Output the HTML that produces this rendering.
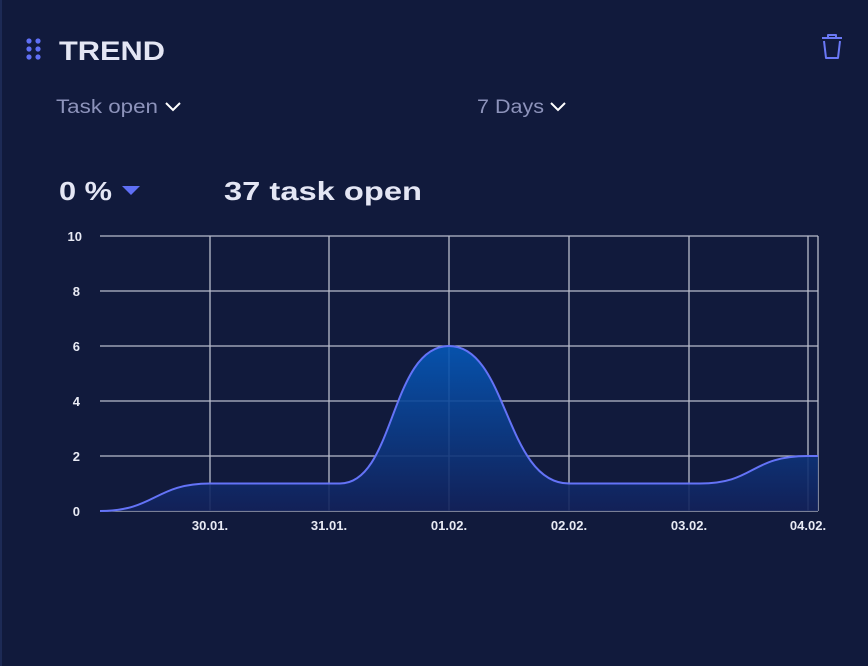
<!DOCTYPE html>
<html><head><meta charset="utf-8"><style>
html,body{margin:0;padding:0;}
body{width:868px;height:666px;background:#111a3c;font-family:"Liberation Sans",sans-serif;position:relative;overflow:hidden;}
.edge{position:absolute;left:0;top:0;width:2px;height:666px;background:#1d2a55;}
</style></head><body>
<div class="edge"></div>
<svg width="868" height="666" style="position:absolute;left:0;top:0">
<g fill="#5f6ff5">
<circle cx="29" cy="41" r="2.6"/><circle cx="38" cy="41" r="2.6"/>
<circle cx="29" cy="49" r="2.6"/><circle cx="38" cy="49" r="2.6"/>
<circle cx="29" cy="57" r="2.6"/><circle cx="38" cy="57" r="2.6"/>
</g>
<text x="59" y="60" font-size="27" font-weight="bold" fill="#e4e6f4" font-family="Liberation Sans" textLength="106" lengthAdjust="spacingAndGlyphs">TREND</text>
<g stroke="#6a78f5" stroke-width="2" fill="none" stroke-linejoin="round">
<path d="M822 38h20M828 38v-3h8v3M824 41l2 17h12l2-17"/>
</g>
<text x="56" y="113" font-size="19" fill="#8d93bb" font-family="Liberation Sans" textLength="102" lengthAdjust="spacingAndGlyphs">Task open</text>
<path d="M166 103l7 7 7-7" stroke="#fff" stroke-width="2" fill="none"/>
<text x="477" y="113" font-size="19" fill="#8d93bb" font-family="Liberation Sans" textLength="67" lengthAdjust="spacingAndGlyphs">7 Days</text>
<path d="M551 103l7 7 7-7" stroke="#fff" stroke-width="2" fill="none"/>
<text x="59" y="200" font-size="26" font-weight="bold" fill="#e4e6f4" font-family="Liberation Sans" textLength="53" lengthAdjust="spacingAndGlyphs">0 %</text>
<path d="M122 186h18l-9 9z" fill="#5f6ff5"/>
<text x="224" y="200" font-size="26" font-weight="bold" fill="#e4e6f4" font-family="Liberation Sans" textLength="198" lengthAdjust="spacingAndGlyphs">37 task open</text>
<defs><linearGradient id="g" x1="0" y1="0" x2="0" y2="1">
<stop offset="0" stop-color="#0558b8"/><stop offset="1" stop-color="#12215a"/></linearGradient></defs>
<g stroke="#b8bccb" stroke-width="1.3">
<line x1="100" x2="818" y1="236" y2="236"/><line x1="100" x2="818" y1="291" y2="291"/>
<line x1="100" x2="818" y1="346" y2="346"/><line x1="100" x2="818" y1="401" y2="401"/>
<line x1="100" x2="818" y1="456" y2="456"/><line x1="100" x2="818" y1="511" y2="511"/>
<line x1="210" x2="210" y1="236" y2="511"/><line x1="329" x2="329" y1="236" y2="511"/>
<line x1="449" x2="449" y1="236" y2="511"/><line x1="569" x2="569" y1="236" y2="511"/>
<line x1="689" x2="689" y1="236" y2="511"/><line x1="808" x2="808" y1="236" y2="511"/>
<line x1="818" x2="818" y1="236" y2="511"/>
</g>
<path d="M100 511C155 511 155 483.5 210 483.5L340 483.5C395 483.5 390 346 449 346C508 346 505 483.5 569 483.5L700 483.5C755 483.5 750 456 808 456L818 456L818 511Z" fill="url(#g)" opacity="0.9"/>
<path d="M100 511C155 511 155 483.5 210 483.5L340 483.5C395 483.5 390 346 449 346C508 346 505 483.5 569 483.5L700 483.5C755 483.5 750 456 808 456L818 456" fill="none" stroke="#6473f7" stroke-width="2"/>
<g font-size="13" font-weight="bold" fill="#e8eaf4" font-family="Liberation Sans" text-anchor="end">
<text x="82" y="241">10</text><text x="80" y="296">8</text><text x="80" y="351">6</text>
<text x="80" y="406">4</text><text x="80" y="461">2</text><text x="80" y="516">0</text>
</g>
<g font-size="13" font-weight="bold" fill="#e8eaf4" font-family="Liberation Sans" text-anchor="middle">
<text x="210" y="530">30.01.</text><text x="329" y="530">31.01.</text><text x="449" y="530">01.02.</text>
<text x="569" y="530">02.02.</text><text x="689" y="530">03.02.</text><text x="808" y="530">04.02.</text>
</g>
</svg>
</body></html>
